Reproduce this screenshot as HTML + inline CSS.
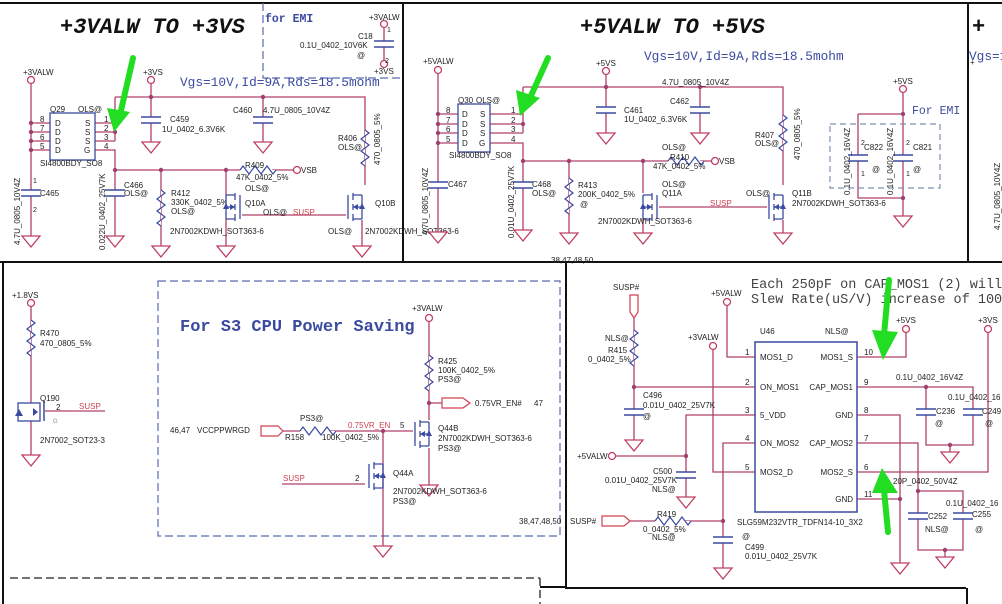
<!DOCTYPE html>
<html><head><meta charset="utf-8"><style>
html,body{margin:0;padding:0;background:#fff;}
svg{display:block;}
text{font-family:"Liberation Sans",sans-serif;font-size:8px;fill:#222;}
.b{fill:#3b4aa0}.r{fill:#d04050}
.mono{font-family:"Liberation Mono",monospace;}
.ttl{font-family:"Liberation Mono",monospace;font-size:22px;font-weight:bold;font-style:italic;fill:#111}
.w{stroke:#b0406a;stroke-width:1.3;fill:none}
.c{stroke:#3b4aa0;stroke-width:1.3;fill:none}
</style></head><body>
<svg width="1002" height="604" viewBox="0 0 1002 604" xmlns="http://www.w3.org/2000/svg">
<defs>
<g id="gnd"><polygon points="-9,0 9,0 0,11" fill="#fff" stroke="#c04060" stroke-width="1.3"/></g>
<g id="pc"><circle r="3.5" fill="#fff" stroke="#c04060" stroke-width="1.3"/></g>
<g id="dot"><circle r="2.2" fill="#a04070"/></g>
<g id="res"><path d="M0,0 l4,3 l-8,6 l8,6 l-8,6 l8,6 l-8,6 l4,3" fill="#fff" stroke="#3b4aa0" stroke-width="1.2"/></g>
<g id="cap"><rect x="-10" y="-1" width="20" height="6" fill="#fff"/><path d="M-10,-1 h20 M-10,5 h20" stroke="#3b4aa0" stroke-width="1.5"/></g>
<g id="fet"><rect x="1" y="-14" width="15" height="28" fill="#fff"/><path d="M0,-12 H9 M0,0 H9 M0,12 H9 M9,-14 V-7 M9,-3 V3 M9,7 V14 M14,-12 V12 M0,-12 V12" stroke="#3b4aa0" stroke-width="1.3" fill="none"/><polygon points="4,-3 4,3 9,0" fill="#3b4aa0"/><polygon points="-3,2 3,2 0,-4" fill="#3b4aa0"/></g>
</defs>

<g stroke="#111" stroke-width="2" fill="none">
<path d="M0,3 H1002 M0,262 H1002 M403,3 V262 M968,3 V262 M3,262 V604 M566,262 V588 H966 M540,587 H566 M967,588 V604"/>
</g>
<path d="M10,578 H540 M540,578 V604" stroke="#222" stroke-width="1.3" stroke-dasharray="8,4" fill="none"/>

<!-- ===== top-left ===== -->
<text x="60" y="33" class="ttl">+3VALW TO +3VS</text>
<path d="M263,3 V78 H400" stroke="#5a6ab0" stroke-width="1.2" stroke-dasharray="8,4" fill="none"/>
<text x="265" y="22" class="b mono" style="font-size:11.5px;font-weight:bold">for EMI</text>
<path class="w" d="M384,24 V64"/><use href="#cap" x="384" y="42"/>
<use href="#pc" x="384" y="24"/><use href="#pc" x="384" y="64"/>
<text x="369" y="20">+3VALW</text><text x="387" y="32" style="font-size:7px">1</text>
<text x="358" y="39">C18</text><text x="300" y="48">0.1U_0402_10V6K</text><text x="357" y="58">@</text>
<text x="385" y="63" style="font-size:7px">2</text><text x="374" y="74">+3VS</text>
<text x="180" y="86" class="b mono" style="font-size:12.8px">Vgs=10V,Id=9A,Rds=18.5mohm</text>

<path class="w" d="M31,80 V236 M31,123 H50 M31,132 H50 M31,141 H50 M31,150 H50 M95,123 H115 M95,132 H115 M95,141 H115 M95,150 H115 V170 M115,97 H365 V185 M115,97 V141 M151,80 V142 M263,97 V142 M115,170 H226 V195 M226,170 H240 M272,170 H294 M115,170 V236 M161,170 V246 M226,219 V246 M240,215 H350 M362,220 V246"/>
<rect x="50" y="113" width="45" height="47" fill="#fff" stroke="#3b4aa0" stroke-width="1.3"/>
<g class="b"><text x="55" y="126">D</text><text x="55" y="135">D</text><text x="55" y="144">D</text><text x="55" y="153">D</text><text x="85" y="126">S</text><text x="85" y="135">S</text><text x="85" y="144">S</text><text x="84" y="153">G</text></g>
<text x="40" y="122">8</text><text x="40" y="131">7</text><text x="40" y="140">6</text><text x="40" y="149">5</text>
<text x="104" y="122">1</text><text x="104" y="131">2</text><text x="104" y="140">3</text><text x="104" y="149">4</text>
<g><use href="#dot" x="31" y="123"/><use href="#dot" x="31" y="132"/><use href="#dot" x="31" y="141"/><use href="#dot" x="31" y="150"/><use href="#dot" x="115" y="132"/><use href="#dot" x="151" y="97"/><use href="#dot" x="263" y="97"/><use href="#dot" x="115" y="170"/><use href="#dot" x="161" y="170"/><use href="#dot" x="226" y="170"/></g>
<text x="50" y="112">Q29</text><text x="78" y="112">OLS@</text><text x="40" y="166">SI4800BDY_SO8</text>
<use href="#pc" x="31" y="80"/><text x="23" y="75">+3VALW</text>
<use href="#pc" x="151" y="80"/><text x="143" y="75">+3VS</text>
<use href="#cap" x="31" y="191"/><text x="40" y="196">C465</text><text x="33" y="183" style="font-size:7px">1</text><text x="33" y="212" style="font-size:7px">2</text>
<text transform="translate(20,245) rotate(-90)">4.7U_0805_10V4Z</text>
<use href="#cap" x="115" y="191"/><text x="124" y="188">C466</text><text x="124" y="196">OLS@</text>
<text transform="translate(105,250) rotate(-90)">0.022U_0402_25V7K</text>
<use href="#cap" x="151" y="118"/><text x="170" y="122">C459</text><text x="162" y="132">1U_0402_6.3V6K</text>
<use href="#cap" x="263" y="118"/><text x="233" y="113">C460</text><text x="263" y="113">4.7U_0805_10V4Z</text>
<use href="#res" x="161" y="190"/><text x="171" y="196">R412</text><text x="171" y="205">330K_0402_5%</text><text x="171" y="214">OLS@</text>
<use href="#res" x="365" y="130"/><text x="338" y="141">R406</text><text x="338" y="150">OLS@</text>
<text transform="translate(380,165) rotate(-90)">470_0805_5%</text>
<use href="#res" transform="translate(240,170) rotate(-90)"/>
<use href="#pc" x="297" y="170"/><text x="301" y="173">VSB</text>
<text x="245" y="168">R409</text><text x="236" y="180">47K_0402_5%</text><text x="245" y="191">OLS@</text>
<use href="#fet" x="226" y="207"/>
<use href="#fet" transform="translate(362,207) scale(-1,1)"/>
<text x="245" y="206">Q10A</text><text x="263" y="215">OLS@</text><text x="293" y="215" class="r">SUSP</text>
<text x="170" y="234">2N7002KDWH_SOT363-6</text><text x="328" y="234">OLS@</text><text x="365" y="234">2N7002KDWH_SOT363-6</text><text x="375" y="206">Q10B</text>
<use href="#gnd" x="31" y="236"/><use href="#gnd" x="115" y="236"/><use href="#gnd" x="151" y="142"/><use href="#gnd" x="263" y="142"/><use href="#gnd" x="161" y="246"/><use href="#gnd" x="226" y="246"/><use href="#gnd" x="362" y="246"/>
<path d="M133,58 L120,115" stroke="#22dd22" stroke-width="6" stroke-linecap="round"/><polygon points="107,108 130,112 114,132" fill="#22dd22"/>

<!-- ===== top-right ===== -->
<text x="580" y="33" class="ttl">+5VALW TO +5VS</text>
<text x="644" y="60" class="b mono" style="font-size:12.8px">Vgs=10V,Id=9A,Rds=18.5mohm</text>
<path class="w" d="M438,70 V232 M438,114 H458 M438,124 H458 M438,133 H458 M438,143 H458 M490,114 H523 M490,124 H523 M490,133 H523 M490,143 H523 V161 M523,87 H783 V185 M523,87 V133 M606,71 V133 M700,87 V133 M523,161 H643 V193 M643,161 H668 M700,161 H712 M523,161 V230 M569,161 V233 M643,219 V233 M657,207 H767 M783,220 V233"/>
<rect x="458" y="104" width="32" height="48" fill="#fff" stroke="#3b4aa0" stroke-width="1.3"/>
<g class="b"><text x="462" y="117">D</text><text x="462" y="127">D</text><text x="462" y="136">D</text><text x="462" y="146">D</text><text x="480" y="117">S</text><text x="480" y="127">S</text><text x="480" y="136">S</text><text x="479" y="146">G</text></g>
<text x="446" y="113">8</text><text x="446" y="123">7</text><text x="446" y="132">6</text><text x="446" y="142">5</text>
<text x="511" y="113">1</text><text x="511" y="123">2</text><text x="511" y="132">3</text><text x="511" y="142">4</text>
<use href="#dot" x="438" y="114"/><use href="#dot" x="438" y="124"/><use href="#dot" x="438" y="133"/><use href="#dot" x="438" y="143"/><use href="#dot" x="523" y="124"/><use href="#dot" x="606" y="87"/><use href="#dot" x="700" y="87"/><use href="#dot" x="523" y="161"/><use href="#dot" x="569" y="161"/><use href="#dot" x="643" y="161"/>
<text x="458" y="103">Q30</text><text x="476" y="103">OLS@</text><text x="449" y="158">SI4800BDY_SO8</text>
<use href="#pc" x="438" y="70"/><text x="423" y="64">+5VALW</text>
<use href="#pc" x="606" y="71"/><text x="596" y="66">+5VS</text>
<use href="#cap" x="438" y="183"/><text x="448" y="187">C467</text>
<text transform="translate(428,235) rotate(-90)">4.7U_0805_10V4Z</text>
<use href="#cap" x="523" y="183"/><text x="532" y="187">C468</text><text x="532" y="196">OLS@</text>
<text transform="translate(514,238) rotate(-90)">0.01U_0402_25V7K</text>
<use href="#cap" x="606" y="108"/><text x="624" y="113">C461</text><text x="624" y="122">1U_0402_6.3V6K</text>
<use href="#cap" x="700" y="108"/><text x="670" y="104">C462</text><text x="662" y="85">4.7U_0805_10V4Z</text>
<use href="#res" x="569" y="178"/><text x="578" y="188">R413</text><text x="578" y="197">200K_0402_5%</text><text x="580" y="207">@</text>
<use href="#res" x="783" y="115"/><text x="755" y="138">R407</text><text x="755" y="146">OLS@</text>
<text transform="translate(800,160) rotate(-90)">470_0805_5%</text>
<use href="#res" transform="translate(668,161) rotate(-90)"/>
<use href="#pc" x="715" y="161"/><text x="719" y="164">VSB</text>
<text x="662" y="150">OLS@</text><text x="670" y="160">R410</text><text x="653" y="169">47K_0402_5%</text>
<use href="#fet" x="643" y="207"/><use href="#fet" transform="translate(783,207) scale(-1,1)"/>
<text x="662" y="187">OLS@</text><text x="662" y="196">Q11A</text><text x="710" y="206" class="r">SUSP</text><text x="746" y="196">OLS@</text><text x="792" y="196">Q11B</text><text x="792" y="206">2N7002KDWH_SOT363-6</text><text x="598" y="224">2N7002KDWH_SOT363-6</text>
<use href="#gnd" x="438" y="232"/><use href="#gnd" x="523" y="230"/><use href="#gnd" x="606" y="133"/><use href="#gnd" x="700" y="133"/><use href="#gnd" x="569" y="233"/><use href="#gnd" x="643" y="233"/><use href="#gnd" x="783" y="233"/>
<path d="M548,58 L530,98" stroke="#22dd22" stroke-width="6" stroke-linecap="round"/><polygon points="516,90 540,98 520,116" fill="#22dd22"/>
<path class="w" d="M903,89 V216 M858,114 H903 M858,114 V198 H903"/>
<use href="#pc" x="903" y="89"/><text x="893" y="84">+5VS</text>
<use href="#dot" x="903" y="114"/><use href="#dot" x="903" y="198"/>
<use href="#cap" x="858" y="156"/><use href="#cap" x="903" y="156"/>
<path d="M830,124 H940 V188 H830 Z" stroke="#8090b0" stroke-width="1.2" stroke-dasharray="6,4" fill="none"/>
<text x="912" y="114" class="b mono" style="font-size:11.5px">For EMI</text>
<text x="864" y="150">C822</text><text x="913" y="150">C821</text><text x="872" y="172">@</text><text x="913" y="172">@</text>
<text x="906" y="145" style="font-size:7px">2</text><text x="906" y="176" style="font-size:7px">1</text><text x="861" y="145" style="font-size:7px">2</text><text x="861" y="176" style="font-size:7px">1</text>
<text transform="translate(850,195) rotate(-90)">0.1U_0402_16V4Z</text><text transform="translate(893,195) rotate(-90)">0.1U_0402_16V4Z</text>
<use href="#gnd" x="903" y="216"/>
<text x="972" y="33" class="ttl">+</text>
<text x="969" y="60" class="b mono" style="font-size:12.8px">Vgs=10V,Id</text><text x="970" y="65">+</text>
<text transform="translate(1000,230) rotate(-90)">4.7U_0805_10V4Z</text>

<!-- ===== bottom-left ===== -->
<path class="w" d="M31,303 V455 M45,411 H105"/>
<use href="#pc" x="31" y="303"/><text x="12" y="298">+1.8VS</text>
<use href="#res" x="31" y="320"/><text x="40" y="336">R470</text><text x="40" y="346">470_0805_5%</text>
<rect x="18" y="403" width="22" height="18" fill="#fff" stroke="#3b4aa0" stroke-width="1.3"/>
<path d="M44,401 V421" stroke="#3b4aa0" stroke-width="1.5"/><polygon points="15,416 23,416 19,409" fill="#3b4aa0"/><polygon points="33,408 33,416 38,412" fill="#3b4aa0"/>
<text x="40" y="401">Q190</text><text x="56" y="410">2</text><text x="79" y="409" class="r">SUSP</text><text x="53" y="423" style="font-size:6px;fill:#888">G</text><text x="40" y="443">2N7002_SOT23-3</text>
<use href="#gnd" x="31" y="455"/>
<path d="M158,281 H560 V536 H158 Z" stroke="#5a6ab0" stroke-width="1.2" stroke-dasharray="8,4" fill="none"/>
<text x="180" y="331" class="b mono" style="font-size:17px;font-weight:bold">For S3 CPU Power Saving</text>
<text x="551" y="263">38,47,48,50</text><text x="519" y="524">38,47,48,50</text>
<path class="w" d="M429,318 V420 M429,448 V485 M283,431 H300 M330,431 H414 M383,431 V546 M282,484 H365 M429,403 H442"/>
<use href="#pc" x="429" y="318"/><text x="412" y="311">+3VALW</text>
<use href="#res" x="429" y="355"/><text x="438" y="364">R425</text><text x="438" y="373">100K_0402_5%</text><text x="438" y="382">PS3@</text>
<use href="#dot" x="429" y="403"/>
<polygon points="442,398 463,398 470,403 463,408 442,408" fill="#fff" stroke="#d04050" stroke-width="1.2"/>
<text x="475" y="406">0.75VR_EN#</text><text x="534" y="406">47</text>
<use href="#fet" transform="translate(429,434) scale(-1,1)"/>
<text x="438" y="431">Q44B</text><text x="438" y="441">2N7002KDWH_SOT363-6</text><text x="438" y="451">PS3@</text>
<use href="#gnd" x="429" y="485"/>
<text x="170" y="433">46,47</text><text x="197" y="433">VCCPPWRGD</text>
<polygon points="261,426 278,426 283,431 278,436 261,436" fill="#fff" stroke="#d04050" stroke-width="1.2"/>
<use href="#res" transform="translate(300,431) rotate(-90)"/>
<text x="300" y="421">PS3@</text><text x="285" y="440">R158</text><text x="322" y="440">100K_0402_5%</text>
<text x="348" y="428" class="r">0.75VR_EN</text><text x="400" y="428">5</text>
<use href="#dot" x="383" y="431"/>
<use href="#fet" transform="translate(383,476) scale(-1,1)"/>
<text x="283" y="481" class="r">SUSP</text><text x="355" y="481">2</text>
<text x="393" y="476">Q44A</text><text x="393" y="494">2N7002KDWH_SOT363-6</text><text x="393" y="504">PS3@</text>
<use href="#gnd" x="383" y="546"/>

<!-- ===== bottom-right ===== -->
<text x="751" y="288" class="mono" style="font-size:13.5px;fill:#444">Each 250pF on CAP_MOS1 (2) will</text>
<text x="751" y="303" class="mono" style="font-size:13.5px;fill:#444">Slew Rate(uS/V) increase of 100</text>
<text x="613" y="290">SUSP#</text>
<polygon points="630,295 638,295 638,312 634,318 630,312" fill="#fff" stroke="#d04050" stroke-width="1.2"/>
<path class="w" d="M634,318 V440 M634,387 H755 M727,302 V357 H755 M713,346 V472 H755 M755,415 H686 V497 M612,456 H686 M755,443 H723 V568 M630,521 H655 M685,521 H723 M857,357 H906 V329 M857,472 H988 V329 M857,387 H973 V445 H926 V387 M857,415 H900 V563 M857,443 H918 V550 H963 V491 H918 M857,499 H900"/>
<use href="#res" x="634" y="330"/>
<text x="605" y="341">NLS@</text><text x="608" y="353">R415</text><text x="588" y="362">0_0402_5%</text>
<use href="#dot" x="634" y="387"/><use href="#cap" x="634" y="410"/>
<text x="643" y="398">C496</text><text x="643" y="408">0.01U_0402_25V7K</text><text x="643" y="419">@</text>
<use href="#gnd" x="634" y="440"/>
<rect x="755" y="342" width="102" height="170" fill="#fff" stroke="#3b4aa0" stroke-width="1.5"/>
<text x="760" y="334">U46</text><text x="825" y="334">NLS@</text>
<g class="b"><text x="760" y="360">MOS1_D</text><text x="760" y="390">ON_MOS1</text><text x="760" y="418">5_VDD</text><text x="760" y="446">ON_MOS2</text><text x="760" y="475">MOS2_D</text>
<g text-anchor="end"><text x="853" y="360">MOS1_S</text><text x="853" y="390">CAP_MOS1</text><text x="853" y="418">GND</text><text x="853" y="446">CAP_MOS2</text><text x="853" y="475">MOS2_S</text><text x="853" y="502">GND</text></g></g>
<g style="font-size:7px"><text x="745" y="355">1</text><text x="745" y="385">2</text><text x="745" y="413">3</text><text x="745" y="441">4</text><text x="745" y="470">5</text><text x="864" y="355">10</text><text x="864" y="385">9</text><text x="864" y="413">8</text><text x="864" y="441">7</text><text x="864" y="470">6</text><text x="864" y="497">11</text></g>
<use href="#pc" x="727" y="302"/><text x="711" y="296">+5VALW</text>
<use href="#pc" x="713" y="346"/><text x="688" y="340">+3VALW</text>
<use href="#pc" x="612" y="456"/><text x="577" y="459">+5VALW</text>
<use href="#dot" x="686" y="456"/><use href="#cap" x="686" y="473"/>
<text x="653" y="474">C500</text><text x="605" y="483">0.01U_0402_25V7K</text><text x="652" y="492">NLS@</text>
<use href="#gnd" x="686" y="497"/>
<text x="570" y="524">SUSP#</text>
<polygon points="602,516 624,516 630,521 624,526 602,526" fill="#fff" stroke="#d04050" stroke-width="1.2"/>
<use href="#res" transform="translate(655,521) rotate(-90)"/>
<text x="657" y="517">R419</text><text x="643" y="532">0_0402_5%</text><text x="652" y="540">NLS@</text>
<use href="#dot" x="723" y="521"/><use href="#cap" x="723" y="538"/>
<text x="737" y="525">SLG59M232VTR_TDFN14-10_3X2</text><text x="742" y="539">@</text><text x="745" y="550">C499</text><text x="745" y="559">0.01U_0402_25V7K</text>
<use href="#gnd" x="723" y="568"/>
<use href="#pc" x="906" y="329"/><text x="896" y="323">+5VS</text>
<use href="#pc" x="988" y="329"/><text x="978" y="323">+3VS</text>
<use href="#dot" x="926" y="387"/><use href="#dot" x="950" y="445"/>
<use href="#cap" x="926" y="410"/><use href="#cap" x="973" y="410"/>
<text x="896" y="380">0.1U_0402_16V4Z</text><text x="948" y="400">0.1U_0402_16</text>
<text x="936" y="414">C236</text><text x="982" y="414">C249</text><text x="935" y="426">@</text><text x="985" y="426">@</text>
<path class="w" d="M950,445 V452"/><use href="#gnd" x="950" y="452"/>
<use href="#dot" x="900" y="499"/><use href="#gnd" x="900" y="563"/>
<use href="#dot" x="918" y="491"/><use href="#cap" x="918" y="514"/><use href="#cap" x="963" y="514"/>
<text x="893" y="484">20P_0402_50V4Z</text><text x="946" y="506">0.1U_0402_16</text>
<text x="928" y="519">C252</text><text x="925" y="532">NLS@</text><text x="972" y="517">C255</text><text x="975" y="532">@</text>
<path class="w" d="M945,550 V557"/><use href="#gnd" x="945" y="557"/><use href="#dot" x="945" y="550"/>
<path d="M889,280 L884,335" stroke="#22dd22" stroke-width="6" stroke-linecap="round"/><polygon points="872,330 898,332 883,360" fill="#22dd22"/>
<path d="M888,532 L884,490" stroke="#22dd22" stroke-width="6" stroke-linecap="round"/><polygon points="872,493 898,493 882,468" fill="#22dd22"/>
</svg>
</body></html>
